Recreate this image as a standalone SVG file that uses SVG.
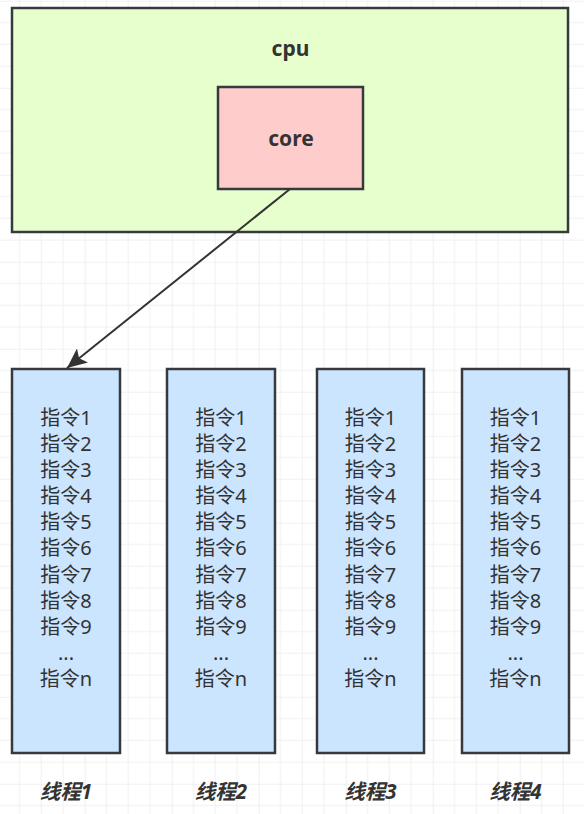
<svg xmlns="http://www.w3.org/2000/svg" width="584" height="814" viewBox="0 0 584 814">
  <defs>
    <pattern id="grid" patternUnits="userSpaceOnUse" x="-2.3" y="0.75" width="87" height="87">
      <path d="M21.75 0V87M43.5 0V87M65.25 0V87M0 21.75H87M0 43.5H87M0 65.25H87" stroke="#f0f0f0" stroke-width="1" fill="none"/>
      <path d="M0 0V87M0 0H87" stroke="#e4e4e4" stroke-width="1.2" fill="none"/>
    </pattern>
    <marker id="arrow" markerUnits="userSpaceOnUse" markerWidth="22" markerHeight="18" refX="20" refY="9" orient="auto">
      <path d="M0 0L20 9L0 18L4.5 9Z" fill="#333333"/>
    </marker>
  </defs>
  <style>
    .box { stroke: #36393d; stroke-width: 2.5; }
    .cpu { fill: #e6ffcc; }
    .core { fill: #ffcccc; }
    .thread { fill: #cce5ff; }
    .title { font-family: "Noto Sans", "Noto Sans CJK SC", sans-serif; font-weight: bold; font-size: 21px; fill: #333333; text-anchor: middle; }
    .ins { font-family: "Noto Sans", "Noto Sans CJK SC", sans-serif; font-size: 20px; fill: #333333; text-anchor: middle; }
    .label { font-family: "Noto Sans", "Noto Sans CJK SC", sans-serif; font-size: 20.5px; font-weight: bold; font-style: italic; fill: #333333; text-anchor: middle; }
    .conn { stroke: #333333; stroke-width: 2; fill: none; }
  </style>
  <rect width="584" height="814" fill="#ffffff"/>
  <rect width="584" height="814" fill="url(#grid)"/>

  <g id="cpu">
    <rect class="box cpu" x="12" y="8" width="556" height="224"/>
    <text class="title" x="290.5" y="56">cpu</text>
  </g>
  <g id="core">
    <rect class="box core" x="218" y="87" width="145" height="102"/>
    <text class="title" x="291" y="146">core</text>
  </g>

  <g id="thread1">
    <rect class="box thread" x="12" y="369" width="108" height="384"/>
    <text class="ins" y="424.5"><tspan x="66">指令1</tspan><tspan x="66" dy="26.17">指令2</tspan><tspan x="66" dy="26.17">指令3</tspan><tspan x="66" dy="26.17">指令4</tspan><tspan x="66" dy="26.17">指令5</tspan><tspan x="66" dy="26.17">指令6</tspan><tspan x="66" dy="26.17">指令7</tspan><tspan x="66" dy="26.17">指令8</tspan><tspan x="66" dy="26.17">指令9</tspan><tspan x="66" dy="26.17">...</tspan><tspan x="66" dy="26.17">指令n</tspan></text>
  </g>
  <g id="thread2">
    <rect class="box thread" x="167" y="369" width="108" height="384"/>
    <text class="ins" y="424.5"><tspan x="221">指令1</tspan><tspan x="221" dy="26.17">指令2</tspan><tspan x="221" dy="26.17">指令3</tspan><tspan x="221" dy="26.17">指令4</tspan><tspan x="221" dy="26.17">指令5</tspan><tspan x="221" dy="26.17">指令6</tspan><tspan x="221" dy="26.17">指令7</tspan><tspan x="221" dy="26.17">指令8</tspan><tspan x="221" dy="26.17">指令9</tspan><tspan x="221" dy="26.17">...</tspan><tspan x="221" dy="26.17">指令n</tspan></text>
  </g>
  <g id="thread3">
    <rect class="box thread" x="317" y="369" width="107" height="384"/>
    <text class="ins" y="424.5"><tspan x="370.5">指令1</tspan><tspan x="370.5" dy="26.17">指令2</tspan><tspan x="370.5" dy="26.17">指令3</tspan><tspan x="370.5" dy="26.17">指令4</tspan><tspan x="370.5" dy="26.17">指令5</tspan><tspan x="370.5" dy="26.17">指令6</tspan><tspan x="370.5" dy="26.17">指令7</tspan><tspan x="370.5" dy="26.17">指令8</tspan><tspan x="370.5" dy="26.17">指令9</tspan><tspan x="370.5" dy="26.17">...</tspan><tspan x="370.5" dy="26.17">指令n</tspan></text>
  </g>
  <g id="thread4">
    <rect class="box thread" x="462" y="369" width="107" height="384"/>
    <text class="ins" y="424.5"><tspan x="515.5">指令1</tspan><tspan x="515.5" dy="26.17">指令2</tspan><tspan x="515.5" dy="26.17">指令3</tspan><tspan x="515.5" dy="26.17">指令4</tspan><tspan x="515.5" dy="26.17">指令5</tspan><tspan x="515.5" dy="26.17">指令6</tspan><tspan x="515.5" dy="26.17">指令7</tspan><tspan x="515.5" dy="26.17">指令8</tspan><tspan x="515.5" dy="26.17">指令9</tspan><tspan x="515.5" dy="26.17">...</tspan><tspan x="515.5" dy="26.17">指令n</tspan></text>
  </g>

  <g id="label1"><text class="label" x="66" y="799">线程1</text></g>
  <g id="label2"><text class="label" x="221" y="799">线程2</text></g>
  <g id="label3"><text class="label" x="370.5" y="799">线程3</text></g>
  <g id="label4"><text class="label" x="515.5" y="799">线程4</text></g>

  <g id="connectors">
    <line class="conn" x1="290" y1="189" x2="67" y2="368" marker-end="url(#arrow)"/>
  </g>
</svg>
